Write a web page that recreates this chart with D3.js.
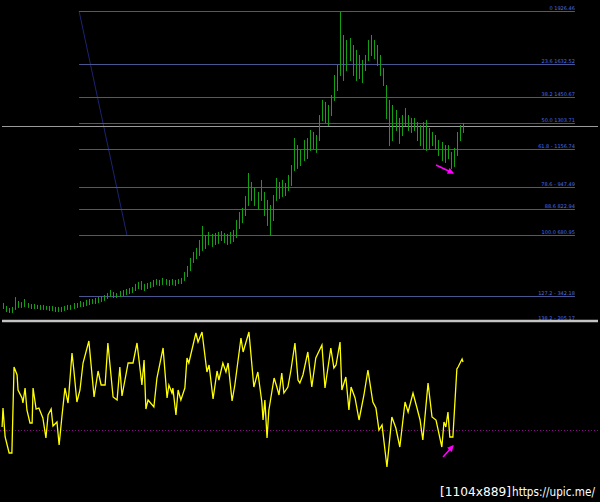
<!DOCTYPE html>
<meta charset="utf-8">
<script src="https://d3js.org/d3.v7.min.js"></script>
<style>
body { margin: 0; background: #000; }
</style>
<div id="chart"></div>
<script>

// fibonacci retracement levels (percent and price)
var fibLevels = ["0", "23.6", "38.2", "50.0", "61.8 -", "78.6 -", "88.6", "100.0", "127.2 -", "138.2 -"];
var fibPrices = [1926.46, 1632.52, 1450.67, 1303.71, 1156.74, 947.49, 822.94, 680.95, 342.18, 205.17];

// bar highs and lows, one per bar
var highs = [303, 286, 275, 281, 336, 314, 308, 325, 303, 297, 297, 292, 292, 292, 286, 286, 286, 281, 281, 281,
  286, 292, 292, 303, 303, 314, 308, 320, 325, 325, 331, 336, 342, 347, 358, 375, 364, 358, 370, 375,
  381, 386, 392, 409, 420, 425, 409, 414, 420, 431, 436, 431, 442, 436, 431, 436, 431, 436, 442, 475,
  509, 553, 587, 609, 653, 731, 681, 698, 687, 692, 698, 703, 692, 687, 698, 709, 764, 809, 831, 898,
  1026, 976, 942, 920, 987, 920, 876, 848, 903, 998, 976, 987, 970, 1015, 1070, 1220, 1181, 1154, 1209, 1220,
  1265, 1254, 1237, 1348, 1432, 1421, 1404, 1459, 1571, 1626, 1921, 1793, 1765, 1776, 1737, 1710, 1682, 1654, 1682, 1765,
  1793, 1765, 1737, 1682, 1610, 1515, 1432, 1404, 1376, 1332, 1348, 1387, 1348, 1332, 1332, 1309, 1293, 1309, 1320, 1276,
  1254, 1237, 1209, 1198, 1181, 1181, 1143, 1165, 1254, 1293, 1304];
var lows = [275, 258, 253, 253, 270, 281, 281, 286, 281, 275, 275, 275, 270, 270, 270, 264, 264, 258, 258, 258,
  264, 270, 270, 275, 281, 286, 286, 292, 297, 303, 303, 308, 314, 320, 331, 342, 336, 336, 342, 347,
  353, 358, 364, 375, 386, 381, 375, 386, 392, 397, 409, 403, 409, 409, 403, 409, 403, 414, 414, 431,
  453, 486, 531, 553, 570, 598, 609, 631, 620, 631, 637, 653, 642, 631, 637, 648, 670, 720, 753, 792,
  848, 876, 848, 831, 876, 792, 737, 681, 764, 876, 887, 898, 903, 931, 959, 1042, 1054, 1070, 1098, 1109,
  1154, 1165, 1143, 1209, 1320, 1309, 1293, 1348, 1432, 1487, 1571, 1543, 1598, 1654, 1571, 1543, 1554, 1532, 1598, 1654,
  1682, 1665, 1626, 1571, 1515, 1332, 1181, 1209, 1265, 1193, 1237, 1293, 1265, 1254, 1265, 1209, 1181, 1165, 1154, 1165,
  1181, 1165, 1126, 1098, 1087, 1109, 1054, 1065, 1126, 1209, 1254];

var currentPrice = 1287;

// oscillator: bar position and value
var oscPos = [-0.3, 0, 0.7, 2.0, 2.9, 3.6, 4.6, 4.9, 6.2, 6.5, 7.2, 7.8, 8.8, 9.5, 9.8, 10.8, 11.7, 13.0, 14.0, 14.7,
  15.7, 16.3, 17.6, 18.3, 19.2, 20.2, 21.2, 21.5, 22.5, 23.1, 24.1, 25.1, 26.1, 28.0, 29.7, 31.0, 32.0, 33.3, 34.2, 35.9,
  37.2, 38.1, 38.8, 40.8, 42.4, 43.7, 45.3, 46.0, 46.6, 47.3, 49.2, 50.2, 52.2, 53.5, 54.1, 55.1, 55.4, 56.4, 57.1, 58.0,
  59.3, 60.0, 60.6, 62.9, 63.6, 64.9, 66.5, 67.2, 68.5, 69.8, 70.4, 71.7, 72.7, 73.4, 74.7, 75.6, 77.6, 78.3, 80.2, 81.8,
  83.1, 84.4, 84.8, 85.4, 86.1, 86.7, 88.4, 89.3, 90.0, 90.9, 91.6, 92.9, 93.9, 95.2, 96.2, 96.8, 97.8, 99.4, 100.7, 102.0,
  104.0, 105.0, 106.9, 107.9, 108.6, 109.9, 110.5, 111.8, 112.8, 113.5, 114.8, 116.1, 117.7, 119.0, 120.6, 121.6, 122.6, 123.6, 125.2, 126.8,
  128.1, 129.4, 131.1, 132.1, 133.7, 135.0, 136.0, 136.9, 138.6, 139.9, 141.2, 143.1, 143.8, 144.4, 145.1, 145.7, 146.7, 148.0, 148.4, 149.7, 150.0];
var oscVals = [3, 22, -7, -23, -23, 63, 55, 40, 32, 27, 42, 20, 7, 7, 42, 21, 22, 12, -8, 15,
  21, 4, 8, -15, 13, 42, 27, 37, 77, 60, 28, 40, 67, 89, 33, 59, 45, 45, 87, 33,
  30, 63, 34, 67, 67, 87, 45, 70, 21, 30, 23, 52, 82, 32, 45, 37, 42, 15, 40, 30,
  42, 72, 67, 97, 88, 98, 58, 65, 31, 59, 50, 67, 58, 67, 29, 45, 92, 78, 98, 43,
  58, 28, 10, 30, -8, 20, 52, 43, 35, 57, 37, 43, 60, 87, 50, 47, 55, 78, 43, 72,
  85, 42, 82, 62, 65, 88, 40, 53, 20, 43, 32, 10, 35, 60, 28, 22, 0, 5, -37, 13,
  2, -17, 28, 18, 37, 22, 10, -10, 47, 13, 10, -17, 8, 3, 18, -7, -7, 61, 63, 71, 68];
var oscLevel = 0;

// fib anchor bars, right end of levels, divergence arrows
var fibFrom = 24.8, fibTo = 40.4, fibRight = 186.5;
var priceArrow = [[141.2, 1070], [146.7, 1026]];
var oscArrow = [[143.5, -27], [146.7, -16]];

var W = 600, H = 502;

var svg = d3.select("#chart")
  .append("svg")
    .attr("width", W)
    .attr("height", H)
    .style("background", "#000");

var x = d3.scaleLinear().domain([0, 150]).range([3, 463]);
var y = d3.scaleLinear().domain([680.95, 1926.46]).range([235, 11]);
var yo = d3.scaleLinear().domain([0, 100]).range([430, 330]);

var defs = svg.append("defs");
defs.append("marker")
  .attr("id", "head")
  .attr("viewBox", "0 0 10 10")
  .attr("refX", 8).attr("refY", 5)
  .attr("markerWidth", 4).attr("markerHeight", 4)
  .attr("orient", "auto")
  .append("path")
    .attr("d", "M0,0L10,5L0,10z")
    .attr("fill", "#ff00ff");

// fib diagonal
svg.append("line")
  .attr("x1", x(fibFrom)).attr("y1", y(fibPrices[0]))
  .attr("x2", x(fibTo)).attr("y2", y(fibPrices[7]))
  .attr("stroke", "#1c2370")
  .attr("stroke-width", 1);

// fib levels
svg.selectAll(".fib")
  .data(fibPrices)
  .enter()
  .append("line")
    .attr("x1", x(fibFrom))
    .attr("x2", x(fibRight))
    .attr("y1", function(d) { return Math.round(y(d)) + 0.5; })
    .attr("y2", function(d) { return Math.round(y(d)) + 0.5; })
    .attr("stroke", "#4a5690")
    .attr("stroke-width", 1);

svg.selectAll(".fiblab")
  .data(fibPrices)
  .enter()
  .append("text")
    .attr("x", x(fibRight))
    .attr("y", function(d) { return Math.round(y(d)) - 1.5; })
    .attr("text-anchor", "end")
    .attr("font-family", "DejaVu Sans")
    .attr("font-size", "5px")
    .attr("fill", "#4a6ee8")
    .text(function(d, i) { return fibLevels[i] + " " + d.toFixed(2); });

// current price line
svg.append("line")
  .attr("x1", 2).attr("x2", 598)
  .attr("y1", Math.round(y(currentPrice)) + 0.5)
  .attr("y2", Math.round(y(currentPrice)) + 0.5)
  .attr("stroke", "#9a9a9a")
  .attr("stroke-width", 1);

// price bars
svg.selectAll(".bar")
  .data(highs)
  .enter()
  .append("line")
    .attr("x1", function(d, i) { return Math.round(x(i)) + 0.5; })
    .attr("x2", function(d, i) { return Math.round(x(i)) + 0.5; })
    .attr("y1", function(d) { return y(d); })
    .attr("y2", function(d, i) { return y(lows[i]) + 1; })
    .attr("stroke", "#13a013")
    .attr("stroke-width", 1);

// price arrow
svg.append("line")
  .attr("x1", x(priceArrow[0][0])).attr("y1", y(priceArrow[0][1]))
  .attr("x2", x(priceArrow[1][0])).attr("y2", y(priceArrow[1][1]))
  .attr("stroke", "#ff00ff")
  .attr("stroke-width", 1.6)
  .attr("marker-end", "url(#head)");

// panel separator
svg.append("line")
  .attr("x1", 2).attr("x2", 598)
  .attr("y1", 321).attr("y2", 321)
  .attr("stroke", "#c4c4c4")
  .attr("stroke-width", 2.5);

// oscillator level
svg.append("line")
  .attr("x1", 0).attr("x2", W)
  .attr("y1", yo(oscLevel) + 0.5).attr("y2", yo(oscLevel) + 0.5)
  .attr("stroke", "#8a0a8a")
  .attr("stroke-width", 1)
  .attr("stroke-dasharray", "1,2");

// oscillator line
var line = d3.line()
  .x(function(d) { return x(d); })
  .y(function(d, i) { return yo(oscVals[i]); });

svg.append("path")
  .datum(oscPos)
  .attr("d", line)
  .attr("fill", "none")
  .attr("stroke", "#ffff00")
  .attr("stroke-width", 1.3);

// oscillator arrow
svg.append("line")
  .attr("x1", x(oscArrow[0][0])).attr("y1", yo(oscArrow[0][1]))
  .attr("x2", x(oscArrow[1][0])).attr("y2", yo(oscArrow[1][1]))
  .attr("stroke", "#ff00ff")
  .attr("stroke-width", 1.6)
  .attr("marker-end", "url(#head)");

// upload stamp
svg.append("text")
  .attr("x", 440)
  .attr("y", 496)
  .attr("fill", "#ffffff")
  .attr("font-family", "Liberation Sans Narrow, DejaVu Sans Condensed")
  .attr("font-size", "12px")
  .attr("textLength", 71)
  .attr("lengthAdjust", "spacingAndGlyphs")
  .text("[1104x889]");
svg.append("text")
  .attr("x", 512)
  .attr("y", 496)
  .attr("fill", "#ffffff")
  .attr("font-family", "Liberation Sans Narrow, DejaVu Sans Condensed")
  .attr("font-size", "12px")
  .attr("textLength", 83)
  .attr("lengthAdjust", "spacingAndGlyphs")
  .text("https://upic.me/");

</script>
